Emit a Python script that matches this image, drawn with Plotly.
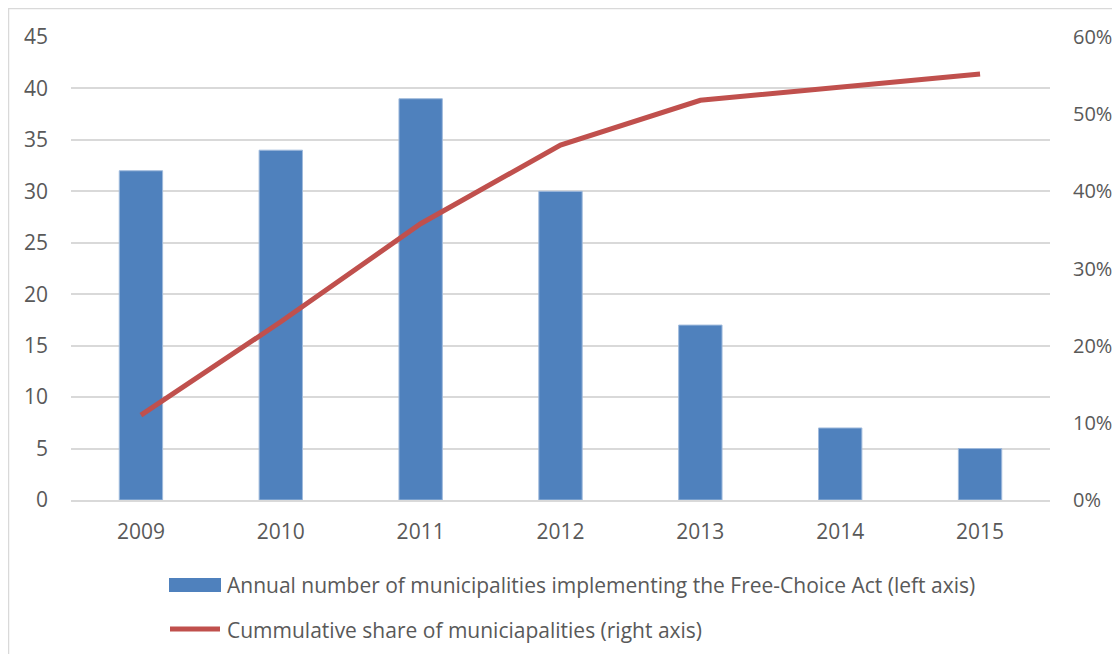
import plotly.graph_objects as go

years = ["2009", "2010", "2011", "2012", "2013", "2014", "2015"]
annual_counts = [32, 34, 39, 30, 17, 7, 5]
cumulative_share = [0.110, 0.231, 0.358, 0.460, 0.518, 0.535, 0.552]

bar_label = "Annual number of municipalities implementing the Free-Choice Act (left axis)"
line_label = "Cummulative share of municiapalities (right axis)"

# page body has an 8px margin; size the figure so no scrollbars appear
OFF = 8
W, H = 1120 - 2 * OFF, 662 - 2 * OFF
PLOT_L, PLOT_R, PLOT_T, PLOT_B = 71, 1050, 37, 500   # screen pixels of plot area
L = PLOT_L - OFF
T = PLOT_T - OFF
R = W - (PLOT_R - OFF)
B = H - (PLOT_B - OFF)
PW, PH = PLOT_R - PLOT_L, PLOT_B - PLOT_T

def px_x(x):
    return (x - PLOT_L) / PW

def px_y(y):
    return (PLOT_B - y) / PH

FONT = "Open Sans"
FS = 21
TXT = "#595959"
BLUE = "#4f81bd"
RED = "#c0504d"
GRID = "#d9d9d9"

fig = go.Figure()
fig.add_trace(go.Bar(
    x=years, y=annual_counts, name=bar_label,
    marker=dict(color=BLUE, line=dict(color="#9fbadc", width=1)),
    width=0.31, yaxis="y", showlegend=False,
))
fig.add_trace(go.Scatter(
    x=years, y=cumulative_share, name=line_label, mode="lines",
    line=dict(color=RED, width=5), yaxis="y2", showlegend=False,
))

shapes = [
    # outer chart border
    dict(type="rect", xref="paper", yref="paper",
         x0=px_x(8.5), x1=px_x(1140), y0=px_y(700), y1=px_y(8.5),
         line=dict(color=GRID, width=1.5), fillcolor="rgba(0,0,0,0)", layer="below"),
    # legend symbols
    dict(type="rect", xref="paper", yref="paper",
         x0=px_x(169), x1=px_x(221), y0=px_y(592), y1=px_y(578),
         line=dict(width=0), fillcolor=BLUE),
    dict(type="line", xref="paper", yref="paper",
         x0=px_x(170), x1=px_x(220), y0=px_y(629), y1=px_y(629),
         line=dict(color=RED, width=5)),
]
annotations = [
    dict(text=bar_label, xref="paper", yref="paper", x=px_x(225), y=px_y(585),
         xanchor="left", yanchor="middle", showarrow=False,
         font=dict(family=FONT, size=FS, color=TXT)),
    dict(text=line_label, xref="paper", yref="paper", x=px_x(225), y=px_y(630),
         xanchor="left", yanchor="middle", showarrow=False,
         font=dict(family=FONT, size=FS, color=TXT)),
]

fig.update_layout(
    width=W, height=H,
    margin=dict(l=L, r=R, t=T, b=B, pad=0, autoexpand=False),
    paper_bgcolor="white", plot_bgcolor="white",
    font=dict(family=FONT, size=FS, color=TXT),
    bargap=0.69,
    xaxis=dict(showgrid=False, showline=True, linecolor=GRID, linewidth=1.5,
               ticks="", ticklabelstandoff=12, automargin=False,
               tickfont=dict(family=FONT, size=FS, color=TXT)),
    yaxis=dict(range=[0, 45], dtick=5, showgrid=True, gridcolor=GRID, gridwidth=1.5,
               zeroline=False, showline=False, ticks="", ticklabelstandoff=22,
               automargin=False,
               tickfont=dict(family=FONT, size=FS, color=TXT)),
    yaxis2=dict(range=[0, 0.6], dtick=0.1, tickformat=".0%", overlaying="y", side="right",
                showgrid=False, zeroline=False, showline=False, ticks="",
                ticklabelstandoff=22, automargin=False,
                tickfont=dict(family=FONT, size=20, color=TXT)),
    shapes=shapes, annotations=annotations,
)

fig.write_html("out.html")
